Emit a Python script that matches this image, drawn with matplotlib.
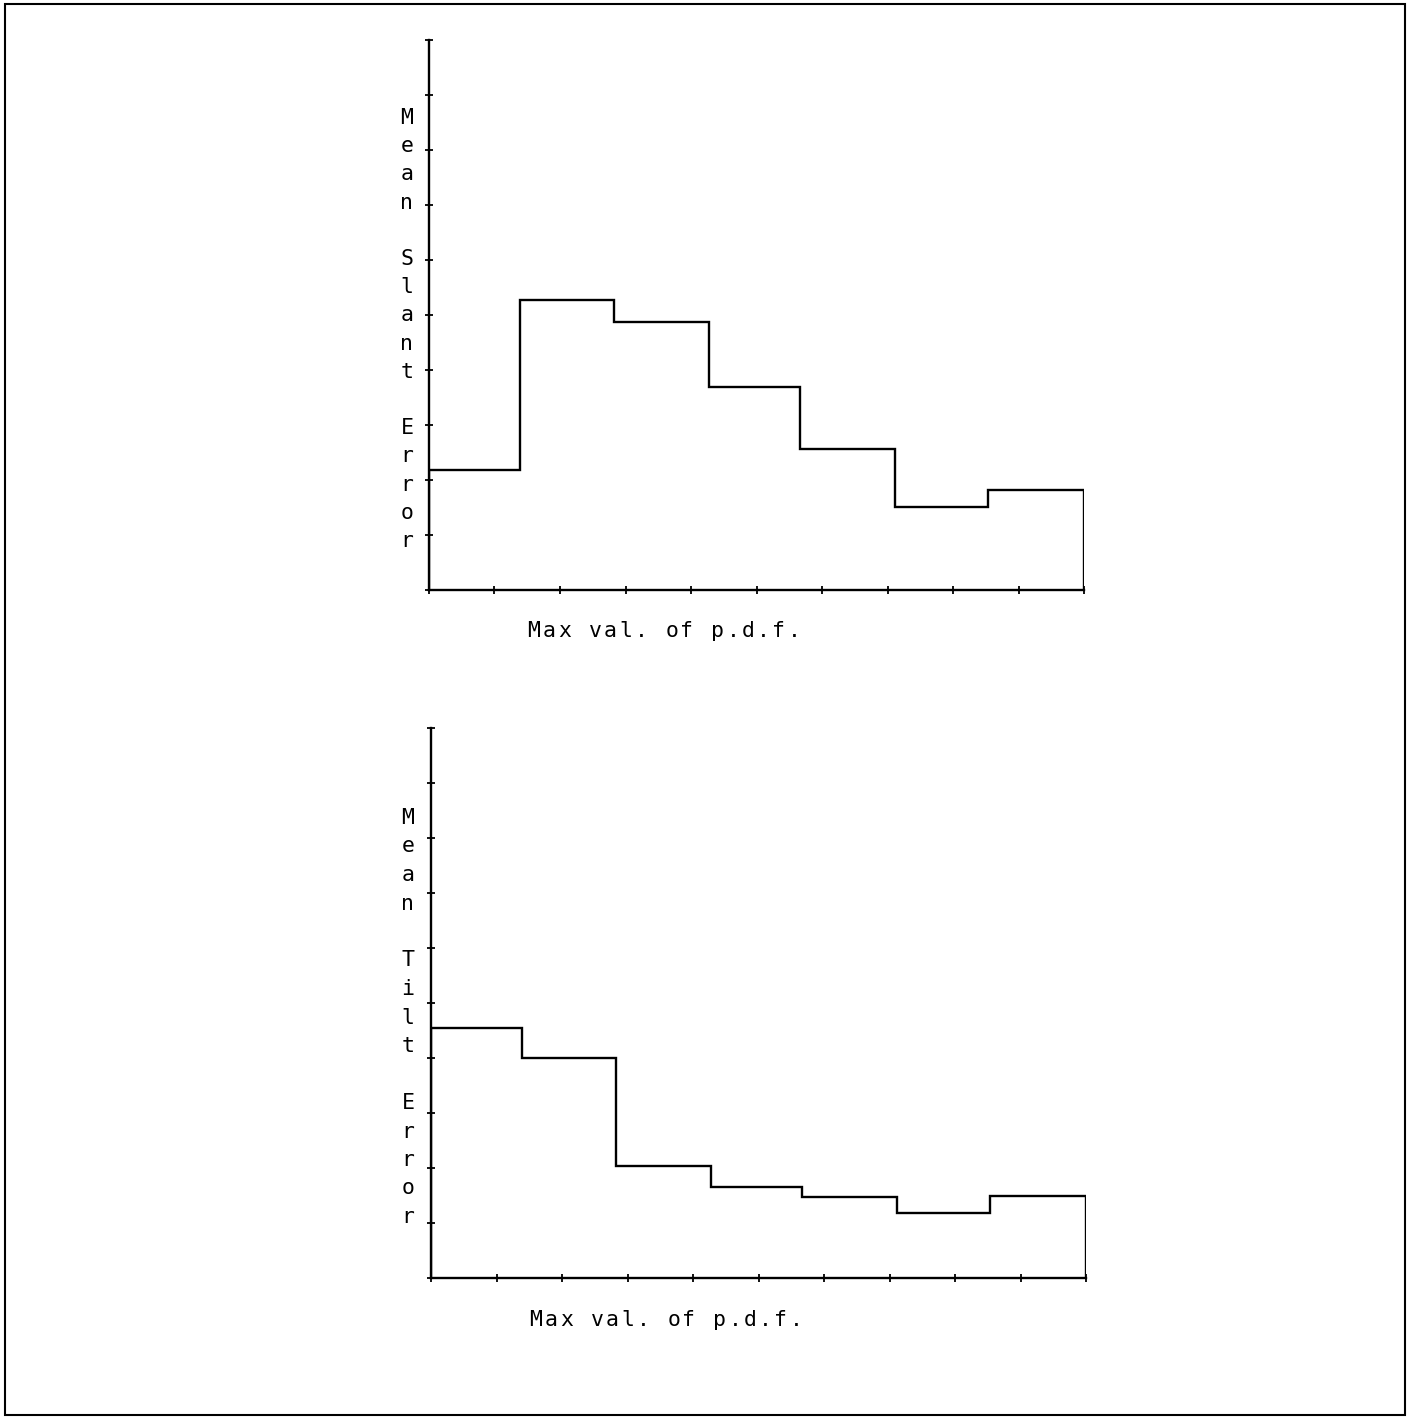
import numpy as np
import matplotlib
matplotlib.use("Agg")
import matplotlib.pyplot as plt
from matplotlib.patches import Rectangle

W, H = 1415, 1418

# bar heights in y-tick units (axis runs 0..10), 7 bins across the x-range
slant_err = [2.18, 5.27, 4.87, 3.69, 2.56, 1.51, 1.82]
tilt_err = [4.55, 4.00, 2.04, 1.65, 1.47, 1.18, 1.49]
bin_edges = [0, 0.139, 0.283, 0.427, 0.566, 0.711, 0.854, 1.0]
x_ticks = np.linspace(0, 1, 11)
y_ticks = np.arange(0, 11)

xlabel = "Max val. of p.d.f."
ylabel_top = "Mean Slant Error"
ylabel_bot = "Mean Tilt Error"

font = "DejaVu Sans Mono"


def put_chars(fig, s, x0, y0, dx, dy, size=15.5):
    # plotter style text: one glyph per fixed step, in figure pixels
    for i, ch in enumerate(s):
        if ch == " ":
            continue
        fig.text((x0 + i * dx) / W, 1 - (y0 + i * dy) / H, ch,
                 ha="center", va="baseline", fontsize=size, family=font)


def make_axes(fig, left, top, right, bottom, values):
    ax = fig.add_axes([left / W, 1 - bottom / H, (right - left) / W, (bottom - top) / H])
    ax.stairs(values, bin_edges, color="black", lw=1.7)
    ax.set_xlim(0, 1)
    ax.set_ylim(0, 10)
    ax.set_xticks(x_ticks)
    ax.set_yticks(y_ticks)
    ax.set_xticklabels([])
    ax.set_yticklabels([])
    ax.tick_params(direction="inout", length=6, width=1.3, color="black")
    for side in ("top", "right"):
        ax.spines[side].set_visible(False)
    for side in ("left", "bottom"):
        ax.spines[side].set_linewidth(1.7)
    ax.patch.set_alpha(0)
    return ax


fig = plt.figure(figsize=(W / 100, H / 100), dpi=100)

make_axes(fig, 429, 40, 1084, 590, slant_err)
make_axes(fig, 431, 728, 1086, 1278, tilt_err)

put_chars(fig, ylabel_top, 407, 124, 0, 28.2)
put_chars(fig, ylabel_bot, 408, 824, 0, 28.5)
put_chars(fig, xlabel, 534, 637, 15.3, 0)
put_chars(fig, xlabel, 536, 1326, 15.3, 0)

# page border
fig.patches.append(Rectangle((5 / W, 1 - 1415 / H), 1400 / W, 1411 / H,
                             transform=fig.transFigure, fill=False,
                             ec="black", lw=1.5))

fig.savefig("out.png", dpi=100)
